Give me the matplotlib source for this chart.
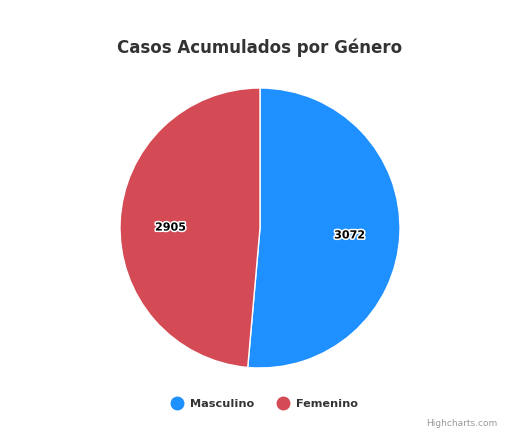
import matplotlib
matplotlib.use("Agg")
import matplotlib.pyplot as plt
import matplotlib.patheffects as pe
from matplotlib.lines import Line2D

# data
generos = ["Masculino", "Femenino"]
casos = [3072, 2905]
colores = ["#1f90ff", "#d44a55"]

W, H = 525, 445
fig = plt.figure(figsize=(W / 100, H / 100), dpi=100, facecolor="white")

# pie centre ~ (260, 228) px, radius ~140 px
cx, cy, r = 260, 228, 140
ax = fig.add_axes([(cx - r) / W, (H - cy - r) / H, 2 * r / W, 2 * r / H])

wedges, texts = ax.pie(
    casos, colors=colores, startangle=90, counterclock=False,
    labels=[str(v) for v in casos], labeldistance=0.64,
    wedgeprops=dict(edgecolor="white", linewidth=1),
    textprops=dict(fontsize=8, fontweight="bold", color="black"),
)
for t in texts:
    x, y = t.get_position()
    t.set_position((x, y - 0.025))  # nudge down a few px like highcharts
    t.set_ha("center")
    t.set_va("center")
    t.set_path_effects([pe.withStroke(linewidth=2.2, foreground="white")])
ax.set_xlim(-1, 1)
ax.set_ylim(-1, 1)
ax.set_aspect("equal")
ax.axis("off")

fig.text(cx / W, 1 - 48 / H, "Casos Acumulados por Género", ha="center",
         va="center", fontsize=12, fontweight="bold", color="#333333")

handles = [Line2D([], [], marker="o", linestyle="", markersize=9,
                  markerfacecolor=c, markeredgecolor=c) for c in colores]
fig.legend(handles, generos, loc="center", bbox_to_anchor=(262 / W, 1 - 404 / H),
           ncol=2, frameon=False, handletextpad=0.2, columnspacing=1.5,
           prop=dict(size=8.1, weight="bold"), labelcolor="#333333")

fig.text(497 / W, 1 - 424 / H, "Highcharts.com", ha="right", va="center",
         fontsize=6.5, color="#999999")

fig.savefig("out.png", dpi=100, facecolor="white")
